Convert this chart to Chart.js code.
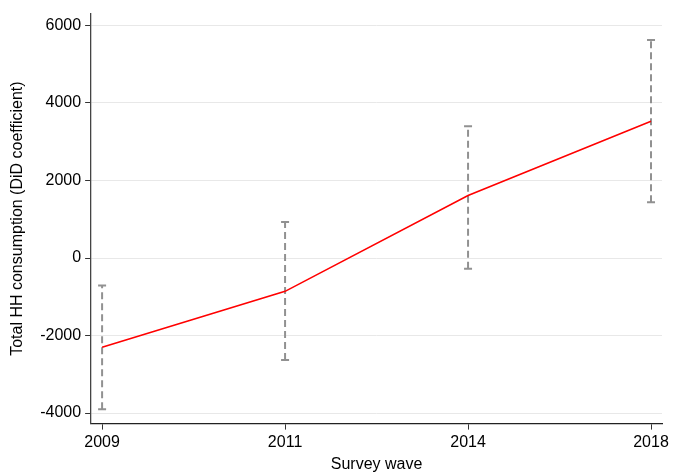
<!DOCTYPE html>
<html>
<head>
<meta charset="utf-8">
<script src="https://cdn.jsdelivr.net/npm/chart.js@4"></script>
<style>
  html, body { margin: 0; padding: 0; background: #fff; }
  #wrap { width: 673px; height: 474px; }
</style>
</head>
<body>
<div id="wrap"><canvas id="app"></canvas></div>
<script>
const waves = ['2009', '2011', '2014', '2018']
const coef = [-2300, -860, 1610, 3530]
const ciLow = [-3900, -2630, -280, 1440]
const ciHigh = [-710, 930, 3400, 5620]
const yTicks = [-4000, -2000, 0, 2000, 4000, 6000]

const font = { family: 'Arial, "Liberation Sans", sans-serif', size: 16 }

function ciSets(){
  return waves.map((w, i) => ({
    label: 'CI ' + w,
    data: [{ x: i, y: ciLow[i] }, { x: i, y: ciHigh[i] }],
    showLine: true,
    borderColor: '#919191',
    borderWidth: 2,
    borderDash: [7, 4],
    pointStyle: 'line',
    pointRadius: 4,
    pointBorderWidth: 2,
    pointBorderColor: '#919191',
    order: 2
  }))
}

const config = {
  type: 'scatter',
  data: {
    datasets: [
      {
        label: 'DiD coefficient',
        data: coef.map((v, i) => ({ x: i, y: v })),
        showLine: true,
        borderColor: '#ff0000',
        borderWidth: 1.6,
        pointRadius: 0,
        order: 1
      },
      ...ciSets()
    ]
  },
  options: {
    responsive: true,
    maintainAspectRatio: false,
    animation: false,
    layout: { padding: { top: 8, right: 11, left: 8, bottom: 0 } },
    plugins: { legend: { display: false }, tooltip: { enabled: false } },
    scales: {
      x: {
        type: 'linear',
        min: -0.06,
        max: 3.06,
        afterBuildTicks: axis => { axis.ticks = waves.map((w, i) => ({ value: i })) },
        ticks: { color: '#000', font, padding: 3, callback: v => waves[v] },
        grid: { drawOnChartArea: false, tickLength: 6, tickColor: '#333', tickWidth: 1 },
        border: { color: '#222', width: 1.3 },
        title: { display: true, text: 'Survey wave', color: '#000', font, padding: { top: 0, bottom: 0 } }
      },
      y: {
        min: -4271,
        max: 6304,
        afterBuildTicks: axis => { axis.ticks = yTicks.map(v => ({ value: v })) },
        ticks: { color: '#000', font, padding: 4, callback: v => String(v) },
        grid: { color: '#e8e8e8', lineWidth: 1, tickLength: 6, tickColor: '#333' },
        border: { color: '#444', width: 1.3 },
        title: { display: true, text: 'Total HH consumption (DiD coefficient)', color: '#000', font, padding: { top: 0, bottom: 9 } }
      }
    }
  }
}

new Chart(document.getElementById('app'), config)
</script>
</body>
</html>
